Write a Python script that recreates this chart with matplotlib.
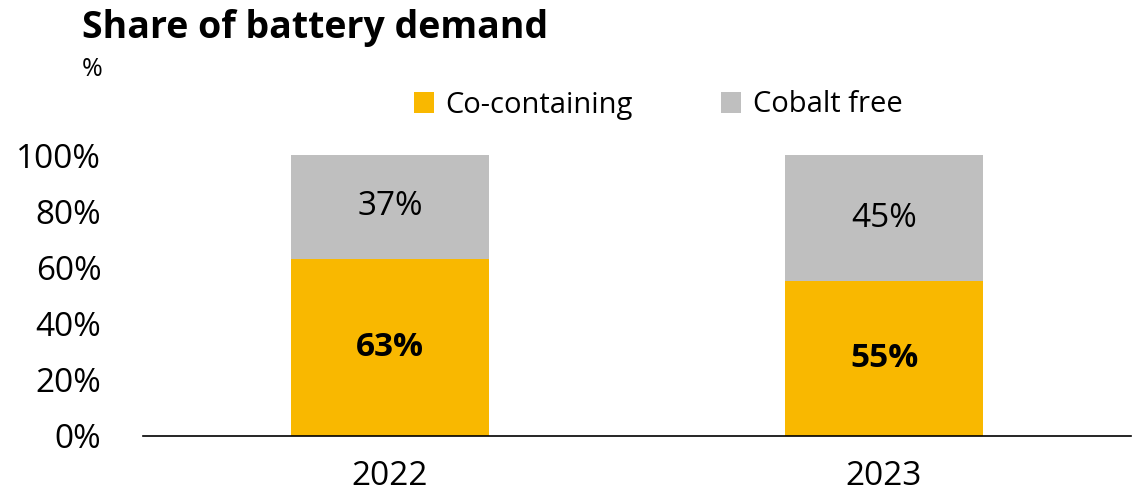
import matplotlib.pyplot as plt
import numpy as np

years = ["2022", "2023"]
co_containing = [63, 55]
cobalt_free = [37, 45]
yticks = [0, 20, 40, 60, 80, 100]

plt.rcParams['font.family'] = ['Open Sans', 'DejaVu Sans']

fig = plt.figure(figsize=(11.41, 4.95), dpi=100)
ax = fig.add_axes([143 / 1141, 1 - 436 / 495, 988 / 1141, 281 / 495])

x = np.arange(len(years))
w = 0.4
gold = "#F9B800"
grey = "#BFBFBF"
b1 = ax.bar(x, co_containing, w, color=gold, label="Co-containing")
b2 = ax.bar(x, cobalt_free, w, bottom=co_containing, color=grey, label="Cobalt free")

for i in range(len(years)):
    ax.text(x[i], co_containing[i] / 2, f"{co_containing[i]}%", ha="center", va="center",
            fontsize=24, fontweight="bold", color="black")
    ax.text(x[i], co_containing[i] + cobalt_free[i] / 2, f"{cobalt_free[i]}%", ha="center",
            va="center", fontsize=24, color="black")

ax.set_xlim(-0.5, 1.5)
ax.set_ylim(0, 100)
ax.set_xticks(x)
ax.set_xticklabels(years, fontsize=24)
ax.set_yticks(yticks)
ax.set_yticklabels([f"{v}%" for v in yticks], fontsize=24)
ax.tick_params(axis="both", length=0)
ax.tick_params(axis="x", pad=17)
ax.tick_params(axis="y", pad=30)
for s in ["top", "right", "left"]:
    ax.spines[s].set_visible(False)
ax.spines["bottom"].set_color("black")
ax.spines["bottom"].set_linewidth(1.2)

fig.text(82 / 1141, 1 - 28 / 495, "Share of battery demand", fontsize=27, fontweight="bold",
         ha="left", va="center")
fig.text(82 / 1141, 1 - 70 / 495, "%", fontsize=18, ha="left", va="center")

fig.legend(handles=[b1, b2], loc="center", bbox_to_anchor=(658 / 1141, 1 - 105 / 495), ncol=2,
           frameon=False, fontsize=21, handlelength=0.7, handleheight=0.7, handletextpad=0.4,
           columnspacing=3.0)

fig.savefig("out.png", dpi=100)
